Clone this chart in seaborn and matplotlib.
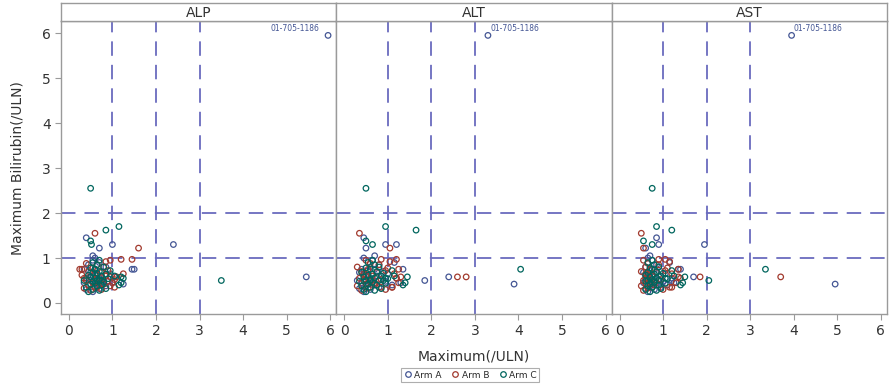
import matplotlib.pyplot as plt
from matplotlib.lines import Line2D
import pandas as pd
import seaborn as sns

sns.set_style('white')

# Arm A: max bilirubin and max ALP / ALT / AST (all /ULN)
bili_a = [5.95, 1.45, 1.30, 1.30, 1.22, 0.75, 0.75, 0.58, 0.42, 0.50,
          0.25, 0.30, 0.32, 0.35, 0.38, 0.40, 0.42, 0.45, 0.45, 0.48,
          0.50, 0.50, 0.52, 0.55, 0.55, 0.58, 0.60, 0.62, 0.65, 0.68,
          0.70, 0.72, 0.75, 0.80, 0.85, 0.90, 0.95, 1.00, 1.05, 0.45]
alp_a = [5.95, 0.40, 1.00, 2.40, 0.70, 1.45, 1.50, 5.45, 1.25, 0.80,
         0.55, 0.40, 0.70, 0.60, 0.85, 0.45, 0.65, 0.35, 0.75, 0.90,
         0.50, 0.60, 0.80, 0.40, 0.70, 1.05, 0.55, 0.65, 0.95, 0.50,
         0.75, 0.60, 0.35, 0.85, 0.45, 0.70, 0.55, 0.60, 0.55, 1.00]
alt_a = [3.30, 0.45, 1.20, 0.95, 0.50, 1.35, 0.40, 2.40, 3.90, 1.85,
         0.45, 0.60, 0.35, 0.80, 0.50, 1.10, 0.70, 0.55, 0.40, 0.95,
         0.65, 0.30, 0.85, 0.60, 1.20, 0.50, 0.75, 0.45, 1.00, 0.35,
         0.90, 0.55, 0.70, 0.60, 0.80, 1.15, 0.65, 0.45, 0.70, 1.30]
ast_a = [3.95, 0.85, 1.95, 0.90, 0.60, 1.40, 1.35, 1.70, 4.95, 1.20,
         0.65, 0.80, 0.60, 0.95, 0.70, 1.10, 0.75, 0.55, 0.85, 1.00,
         0.65, 0.60, 0.90, 0.70, 1.20, 0.80, 0.60, 0.75, 1.05, 0.55,
         0.95, 0.70, 0.80, 0.60, 0.85, 1.15, 0.75, 0.65, 0.70, 1.25]

# Arm B
bili_b = [1.55, 1.22, 0.97, 0.97, 0.58, 0.58, 0.35, 0.75,
          0.28, 0.30, 0.33, 0.35, 0.38, 0.40, 0.42, 0.45, 0.48, 0.50,
          0.52, 0.55, 0.58, 0.60, 0.62, 0.65, 0.68, 0.70, 0.72, 0.75,
          0.78, 0.80, 0.85, 0.88, 0.92, 0.95, 0.35, 0.45, 0.55, 0.65]
alp_b = [0.60, 1.60, 1.45, 1.20, 1.10, 0.95, 1.05, 0.30,
         0.50, 0.75, 0.35, 0.60, 0.95, 0.45, 0.80, 0.55, 0.70, 0.40,
         1.05, 0.65, 0.50, 0.85, 0.30, 0.60, 0.75, 0.45, 0.90, 0.25,
         0.55, 0.80, 0.65, 0.40, 0.85, 0.95, 0.65, 1.00, 0.35, 1.25]
alt_b = [0.35, 1.05, 1.20, 0.85, 2.60, 2.80, 1.10, 1.25,
         0.40, 0.95, 0.55, 1.10, 0.30, 0.70, 0.50, 1.25, 0.60, 0.45,
         0.85, 0.35, 1.30, 0.65, 0.50, 1.15, 0.75, 0.40, 0.95, 0.55,
         1.00, 0.30, 0.80, 0.60, 1.05, 0.50, 0.85, 0.70, 1.20, 0.45]
ast_b = [0.50, 0.55, 0.90, 1.05, 3.70, 1.85, 1.20, 1.35,
         0.55, 1.00, 0.65, 1.15, 0.50, 0.80, 0.60, 1.30, 0.70, 0.55,
         0.95, 0.60, 1.35, 0.75, 0.65, 1.20, 0.85, 0.50, 1.05, 0.70,
         1.10, 0.60, 0.90, 0.65, 1.15, 0.55, 0.75, 0.80, 1.40, 0.60]

# Arm C
bili_c = [2.55, 1.70, 1.62, 1.38, 1.30, 0.50, 0.75, 0.58,
          0.25, 0.28, 0.30, 0.32, 0.35, 0.38, 0.40, 0.42, 0.44, 0.46,
          0.48, 0.50, 0.50, 0.52, 0.54, 0.56, 0.58, 0.60, 0.62, 0.64,
          0.66, 0.68, 0.70, 0.72, 0.75, 0.78, 0.80, 0.85, 0.90, 0.95,
          0.40, 0.45, 0.55, 0.60, 0.50]
alp_c = [0.50, 1.15, 0.85, 0.50, 0.52, 3.50, 0.60, 1.20,
         0.45, 0.70, 0.55, 0.85, 0.40, 0.65, 0.75, 0.50, 0.60, 0.80,
         0.55, 0.65, 0.35, 0.70, 0.90, 0.60, 0.50, 0.75, 0.45, 0.85,
         0.65, 0.55, 0.70, 0.95, 0.60, 0.50, 0.80, 0.65, 0.55, 0.70,
         1.15, 1.20, 1.25, 1.05, 0.75]
alt_c = [0.50, 0.95, 1.65, 0.50, 0.65, 0.90, 4.05, 1.45,
         0.50, 0.70, 0.45, 0.85, 0.60, 0.40, 0.75, 0.55, 0.95, 0.65,
         0.35, 0.80, 0.50, 0.60, 1.00, 0.70, 0.45, 0.85, 0.55, 0.65,
         0.90, 0.40, 0.75, 1.10, 0.60, 0.50, 0.80, 0.70, 0.55, 0.65,
         1.35, 1.40, 0.95, 1.15, 0.60]
ast_c = [0.75, 0.85, 1.20, 0.55, 0.75, 2.05, 3.35, 1.50,
         0.70, 0.85, 0.60, 0.95, 0.75, 0.65, 0.90, 0.70, 1.05, 0.80,
         0.60, 0.90, 0.65, 0.75, 1.10, 0.85, 0.70, 0.95, 0.60, 0.80,
         1.00, 0.65, 0.85, 1.20, 0.75, 0.70, 0.90, 0.80, 0.65, 0.75,
         1.40, 1.45, 1.05, 1.25, 0.80]

tests = ['ALP', 'ALT', 'AST']
arms = ['Arm A', 'Arm B', 'Arm C']
colors = {'Arm A': '#445694', 'Arm B': '#A23A2E', 'Arm C': '#01665E'}
label_id = '01-705-1186'
label_pt = {'ALP': (5.95, 5.95), 'ALT': (3.30, 5.95), 'AST': (3.95, 5.95)}

rows = []
for arm, b, cols in [('Arm A', bili_a, (alp_a, alt_a, ast_a)),
                     ('Arm B', bili_b, (alp_b, alt_b, ast_b)),
                     ('Arm C', bili_c, (alp_c, alt_c, ast_c))]:
    for test, vals in zip(tests, cols):
        rows.append(pd.DataFrame({'arm': arm, 'test': test, 'x': vals, 'bili': b}))
df = pd.concat(rows, ignore_index=True)

fig = plt.figure(figsize=(8.89, 3.85), dpi=100)
W, H = 889, 385
left, right, top, bottom = 61, 887, 21, 314
pw = (right - left) / 3
grey = '#9a9a9a'
refc = '#6A6BBE'

for i, test in enumerate(tests):
    x0 = left + i * pw
    ax = fig.add_axes([x0 / W, 1 - bottom / H, pw / W, (bottom - top) / H])
    for v in [1, 2, 3]:
        ax.axvline(v, color=refc, lw=1.3, ls=(0, (8, 5)), zorder=1)
    for v in [1, 2]:
        ax.axhline(v, color=refc, lw=1.3, ls=(0, (8, 5)), zorder=1)
    sub = df[df.test == test]
    for arm in arms:
        d = sub[sub.arm == arm]
        sns.scatterplot(x='x', y='bili', data=d, ax=ax, s=16, marker='o',
                        facecolors='none', edgecolor=colors[arm], linewidth=0.9,
                        legend=False, zorder=3)
    lx, ly = label_pt[test]
    if test == 'ALP':
        ax.text(lx - 0.2, ly + 0.05, label_id, fontsize=5.5, color='#445694',
                ha='right', va='bottom')
    else:
        ax.text(lx + 0.05, ly + 0.05, label_id, fontsize=5.5, color='#445694',
                ha='left', va='bottom')
    ax.set_xlim(-0.18, 6.14)
    ax.set_ylim(-0.245, 6.27)
    ax.set_xticks(range(7))
    ax.set_yticks(range(7))
    ax.set_xlabel('')
    ax.set_ylabel('')
    ax.tick_params(axis='both', direction='out', length=4, width=0.8, color=grey,
                   labelsize=10, labelcolor='#333333', bottom=True, left=(i == 0))
    if i > 0:
        ax.set_yticklabels([])
    for sp in ax.spines.values():
        sp.set_color(grey)
        sp.set_linewidth(1)

    # header strip
    hx = fig.add_axes([x0 / W, 1 - top / H, pw / W, 18 / H])
    hx.set_xticks([])
    hx.set_yticks([])
    for sp in hx.spines.values():
        sp.set_color(grey)
        sp.set_linewidth(1)
    hx.text(0.5, 0.45, test, ha='center', va='center', fontsize=10, color='#333333')

fig.text(18 / W, 1 - 168 / H, 'Maximum Bilirubin(/ULN)', rotation=90,
         ha='center', va='center', fontsize=10, color='#333333')
fig.text(474 / W, 1 - 356 / H, 'Maximum(/ULN)', ha='center', va='center',
         fontsize=10, color='#333333')

handles = [Line2D([], [], ls='', marker='o', ms=4, mfc='none', mec=colors[a], mew=0.9)
           for a in arms]
leg = fig.legend(handles, arms, loc='center', bbox_to_anchor=(470 / W, 1 - 375 / H),
                 ncol=3, fontsize=6.5, frameon=True, fancybox=False, handletextpad=0.2,
                 columnspacing=1.0, borderpad=0.3, handlelength=1.0)
leg.get_frame().set_edgecolor(grey)
leg.get_frame().set_linewidth(0.8)

fig.savefig('out.png', dpi=100)
